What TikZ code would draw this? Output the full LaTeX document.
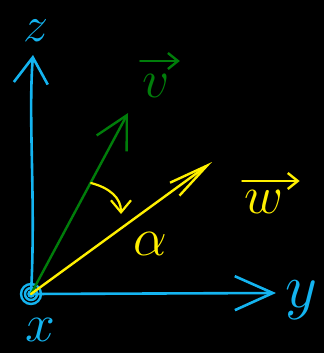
\documentclass[tikz,border=0pt]{standalone}
\usepackage{amsmath}
\usepackage{graphicx}
\usetikzlibrary{arrows.meta}
\definecolor{axcyan}{RGB}{20,180,240}
\definecolor{vgreen}{RGB}{0,125,10}
\definecolor{wyellow}{RGB}{255,240,0}
\newcommand{\hugemath}[2][3.1]{\scalebox{#1}{\LARGE$#2$}}
\tikzset{
  axis/.style={axcyan, line width=2.6pt, line cap=round, -{Straight Barb[length=#1, width=34pt]}},
  vec/.style={line width=2.4pt, line cap=round},
  vecmark/.style={line width=2.4pt, line cap=round, -{Straight Barb[length=10pt, width=16pt]}},
  lbl/.style={inner sep=0pt}
}
\begin{document}
\begin{tikzpicture}[x=1pt,y=-1pt]
\useasboundingbox[fill=black] (0,0) rectangle (324,353);
\coordinate (O) at (31,294);
\coordinate (Zt) at (33,55);
\coordinate (Yt) at (276,293);
\coordinate (Vt) at (128,113);
\coordinate (Wt) at (212,162);
\coordinate (A1) at (91,183);
\coordinate (A2) at (121,214);
% axes
\draw[axis=26pt] (O) .. controls (36,200) and (28,120) .. (Zt);
\draw[axis=38pt] (O) -- (Yt);
% origin mark
\draw[axcyan, line width=2.4pt] (O) circle (10) (O) circle (6) (O) circle (2.5);
% vectors
\draw[vec, vgreen, -{Straight Barb[length=32pt, width=34pt]}] (O) -- (Vt);
\draw[vec, wyellow, -{Straight Barb[length=40pt, width=16pt]}] (O) -- (Wt);
% angle arc
\draw[vec, wyellow, line width=2.2pt, -{Straight Barb[length=12pt, width=20pt]}] (A1) .. controls (110,188) and (121,198) .. (A2);
% labels
\node[lbl, text=axcyan] (zl) at (36,31) {\hugemath[2.9]{z}};
\node[lbl, text=axcyan] (yl) at (301,300) {\hugemath[3.6]{y}};
\node[lbl, text=axcyan] (xl) at (40,330) {\hugemath{x}};
\node[lbl, text=vgreen] (vl) at (156,86) {\hugemath{v}};
\node[lbl, text=wyellow] (wl) at (264,202) {\hugemath{w}};
\node[lbl, text=wyellow] (al) at (150,244) {\hugemath{\alpha}};
% vector marks over the letters
\draw[vecmark, vgreen] ([xshift=-2pt,yshift=25pt]vl.west) -- ([xshift=10pt,yshift=25pt]vl.east);
\draw[vecmark, wyellow] ([xshift=-2pt,yshift=21pt]wl.west) -- ([xshift=16pt,yshift=21pt]wl.east);
\end{tikzpicture}
\end{document}
